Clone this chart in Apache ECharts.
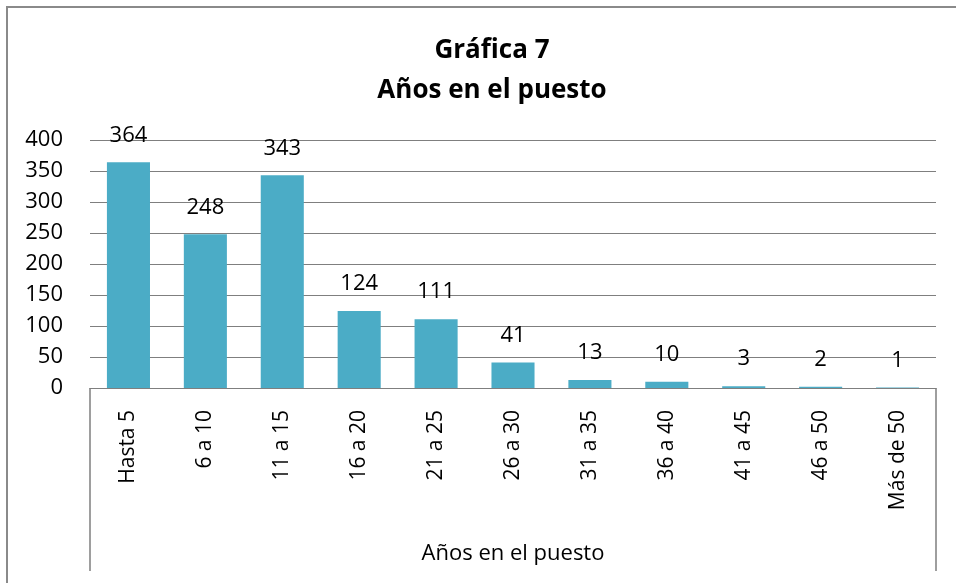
<!DOCTYPE html>
<html>
<head>
<meta charset="utf-8">
<script src="https://cdn.jsdelivr.net/npm/echarts@6/dist/echarts.min.js"></script>
<style>html,body{margin:0;padding:0;background:#fff}#c{width:956px;height:583px}</style>
</head>
<body>
<div id="c"></div>
<script>
const categories = ['Hasta 5','6 a 10','11 a 15','16 a 20','21 a 25','26 a 30','31 a 35','36 a 40','41 a 45','46 a 50','Más de 50'];
const values = [364,248,343,124,111,41,13,10,3,2,1];
const groupLabel = ['Años en el puesto'];
const yTicks = {min:0, max:400, interval:50};
const titleLines = ['Gráfica 7','Años en el puesto'];

const FONT = 'Open Sans';
const GRAY = '#7f7f7f';
const chart = echarts.init(document.getElementById('c'), null, {renderer:'canvas'});
chart.setOption({
  animation:false,
  backgroundColor:'#fff',
  textStyle:{fontFamily:FONT},
  graphic:[{type:'rect', z:-10, shape:{x:7,y:7,width:1100,height:1100}, style:{fill:'none', stroke:'#8a8a8a', lineWidth:2}}],
  title:{
    text:titleLines.join('\n'),
    left:487, top:26, textAlign:'center',
    textStyle:{fontFamily:FONT, fontSize:26, fontWeight:'bold', color:'#000', lineHeight:40}
  },
  grid:{left:90, right:20, top:140, bottom:195},
  xAxis:[{
    type:'category', data:categories, position:'bottom',
    axisLine:{show:true, lineStyle:{color:GRAY, width:1}},
    axisTick:{show:false},
    axisLabel:{rotate:90, margin:22, fontSize:21, color:'#000', fontFamily:FONT, interval:0}
  },{
    type:'category', data:groupLabel, position:'bottom',
    axisLine:{show:false},
    axisTick:{show:true, length:183, lineStyle:{color:GRAY, width:1.5}},
    axisLabel:{margin:155, fontSize:22, color:'#000', fontFamily:FONT}
  }],
  yAxis:{
    type:'value', min:yTicks.min, max:yTicks.max, interval:yTicks.interval,
    axisLine:{show:false}, axisTick:{show:false},
    splitLine:{lineStyle:{color:GRAY, width:1}},
    axisLabel:{margin:27, fontSize:22, color:'#000', fontFamily:FONT}
  },
  series:[{
    type:'bar', data:values, xAxisIndex:0,
    barCategoryGap:'44%',
    itemStyle:{color:'#4BACC6'},
    label:{show:true, position:'top', distance:16, fontSize:22, color:'#000', fontFamily:FONT}
  }]
});
</script>
</body>
</html>
